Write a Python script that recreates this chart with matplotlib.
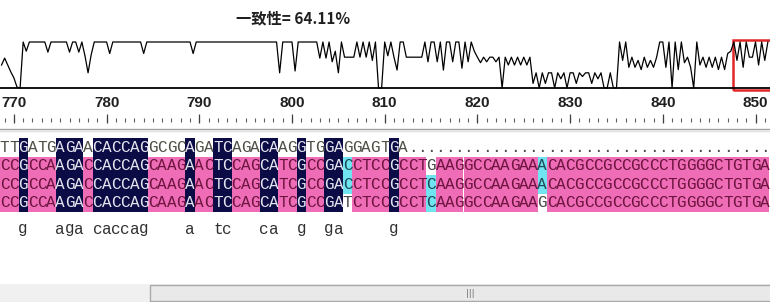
import numpy as np
import matplotlib.pyplot as plt
from matplotlib.patches import Rectangle

# -----------------------------
# Daten
# -----------------------------
title = "一致性= 64.11%"
first_pos = 769  # Position der ersten Spalte

ref_seq = "TTGATGAGAACACCAGGCGCAGATCAGACAAGGTGGAGGAGTGA" + "." * 39
seq_1 = "CCGCCAAGACCACCAGCAAGAACTCCAGCATCGCCGACCTCCGCCTGAAGGCCAAGAAACACGCCGCCGCCCTGGGGCTGTGA"
seq_2 = "CCGCCAAGACCACCAGCAAGAACTCCAGCATCGCCGACCTCCGCCTCAAGGCCAAGAAACACGCCGCCGCCCTGGGGCTGTGA"
seq_3 = "CCGCCAAGACCACCAGCAAGAACTCCAGCATCGCCGATCTCCGCCTCAAGGCCAAGAAGCACGCCGCCGCCCTGGGGCTGTGA"

# Aehnlichkeitskurve, 3 Werte pro Spalte (in %)
similarity = [
    50, 65, 50, 35, 22, 2, 0, 100, 80, 100,
    100, 100, 100, 100, 100, 78, 100, 100, 100, 100,
    100, 100, 78, 100, 100, 78, 100, 70, 33, 72,
    100, 100, 100, 100, 100, 75, 100, 100, 100, 100,
    100, 100, 100, 100, 100, 100, 75, 100, 100, 100,
    100, 100, 100, 100, 100, 100, 100, 100, 100, 100,
    100, 100, 75, 100, 100, 100, 100, 100, 100, 100,
    100, 100, 100, 100, 100, 100, 100, 100, 100, 100,
    100, 100, 100, 100, 100, 100, 100, 100, 100, 100,
    33, 100, 100, 100, 100, 37, 100, 100, 100, 100,
    100, 100, 100, 65, 100, 65, 100, 57, 80, 33,
    100, 67, 67, 67, 67, 100, 67, 100, 67, 100,
    60, 100, 0, 0, 100, 70, 100, 67, 39, 100,
    100, 67, 67, 67, 67, 67, 67, 100, 57, 100,
    100, 57, 100, 39, 100, 100, 57, 100, 100, 43,
    100, 57, 100, 80, 67, 55, 67, 57, 67, 67,
    57, 67, 0, 67, 50, 67, 50, 67, 50, 67,
    50, 67, 10, 33, 0, 33, 10, 33, 33, 0,
    33, 20, 33, 0, 33, 33, 10, 33, 25, 33,
    33, 10, 33, 20, 33, 0, 0, 33, 0, 0,
    100, 60, 100, 45, 67, 45, 60, 40, 67, 45,
    60, 45, 67, 100, 100, 45, 100, 0, 100, 40,
    100, 55, 67, 45, 0, 100, 50, 67, 45, 67,
    45, 67, 40, 67, 40, 75, 80, 100, 60, 100,
    45, 100, 67, 67, 100, 50, 100, 60, 100,
]

# -----------------------------
# Layout (Pixel)
# -----------------------------
W, H = 770, 302
COL_W = 9.27
NCOL = W / COL_W
ROW_TOP = [138, 156.5, 175, 193.5]
ROW_H = 18.5

NAVY = "#0b0b46"
PINK = "#ef6db6"
CYAN = "#70e4f0"
MONO = "Liberation Mono"
SEQ_SIZE = 11.5

fig = plt.figure(figsize=(W / 100, H / 100), dpi=100)
ax = fig.add_axes((0, 0, 1, 1))
ax.set_xlim(0, NCOL)
ax.set_ylim(H, 0)
ax.axis("off")

# Titel
ax.text(293 / COL_W, 18, title, ha="center", va="center", fontsize=11,
        fontweight="bold", family=["Noto Sans CJK SC", "DejaVu Sans"], color="#202020")

# -----------------------------
# Aehnlichkeitskurve
# -----------------------------
ax_sim = fig.add_axes((0, (H - 88) / H, 1, 46 / H))
ax_sim.set_xlim(0, NCOL)
ax_sim.set_ylim(0, 100)
ax_sim.axis("off")
xs = np.arange(len(similarity)) / 3 + 1 / 6
ax_sim.plot(xs, similarity, color="black", lw=0.9, clip_on=False)
ax_sim.axhline(0, color="black", lw=1.3, clip_on=False)
ax_sim.add_patch(Rectangle((733 / COL_W, -4), 5, 108, fill=False,
                           edgecolor="#e02626", lw=1.8, clip_on=False))

# -----------------------------
# Lineal
# -----------------------------
cols = np.arange(len(ref_seq))
positions = first_pos + cols
ax.vlines(cols + 0.5, 118, 122, color="#606060", lw=0.8)
major = cols[positions % 10 == 0]
ax.vlines(major + 0.5, 114, 123, color="#404040", lw=0.9)
for c in major:
    ax.text(c + 0.5, 103, str(positions[c]), ha="center", va="center",
            fontsize=11, fontweight="bold", family="Liberation Sans", color="#202020")
ax.axhline(129, color="#a0a0a0", lw=1)
ax.axhline(131, color="#e0e0e0", lw=1)

# -----------------------------
# Alignment
# -----------------------------
rows = [ref_seq, seq_1, seq_2, seq_3]
consensus = ""
for c in cols:
    chars = [r[c] for r in rows]
    same = len(set(chars)) == 1 and chars[0] != "."
    consensus += chars[0].lower() if same else " "
    sub = chars[1:]
    for r, ch in enumerate(chars):
        if same:
            bg, fg = NAVY, "#e4e4ee"
        elif r == 0:
            bg, fg = None, "#505048"
        else:
            n = sub.count(ch)
            if n == 3:
                bg, fg = PINK, "#6e1440"
            elif n == 2:
                bg, fg = CYAN, "#1e4a58"
            else:
                bg, fg = None, "#484848"
        if bg:
            ax.add_patch(Rectangle((c, ROW_TOP[r]), 1, ROW_H, facecolor=bg, lw=0))
        ax.text(c + 0.5, ROW_TOP[r] + ROW_H / 2, ch, ha="center", va="center",
                fontsize=SEQ_SIZE, family=MONO, color=fg)

for c, ch in enumerate(consensus):
    if ch != " ":
        ax.text(c + 0.5, 229, ch, ha="center", va="center", fontsize=SEQ_SIZE,
                family=MONO, color="#303030")

# -----------------------------
# Scrollbar
# -----------------------------
ax.add_patch(Rectangle((0, 284), NCOL, 18, facecolor="#f0f0f0", lw=0))
ax.add_patch(Rectangle((150 / COL_W, 285), (W - 150) / COL_W + 1, 16,
                       facecolor="#e9e9e9", edgecolor="#a9a9a9", lw=1))
ax.text(470 / COL_W, 293, "|||", ha="center", va="center", fontsize=6, color="#707070")

fig.savefig("out.png", dpi=100)
